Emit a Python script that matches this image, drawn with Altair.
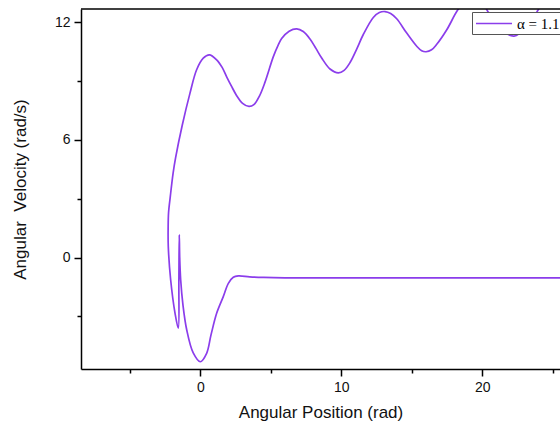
import altair as alt
import pandas as pd

# Trajectory, in drawing order
theta = [27.0, 20.0, 12.0, 6.0, 4.5, 3.5, 2.7, 2.34, 1.99, 1.63, 1.16, 0.76, 0.45, 0.0,
         -0.50, -0.96, -1.23, -1.39, -1.46, -1.49, -1.52, -1.56,
         -1.79, -2.10, -2.27, -2.28, -2.25, -2.13, -1.93, -1.75, -1.28, -0.73, -0.26,
         0.21, 0.64, 1.16, 1.55, 1.87, 2.2, 2.58, 3.0, 3.45, 3.8, 4.2, 4.59, 5.18, 5.5,
         5.77, 6.3, 6.84, 7.3, 7.78, 8.2, 8.61, 9.2, 9.79, 10.2, 10.62, 11.1, 11.56,
         12.27, 12.7, 13.1, 13.5, 13.93, 14.64, 15.35, 15.7, 16.01, 16.4, 16.77, 17.48,
         18.23, 18.8, 19.4, 20.0, 20.43, 21.2, 22.25, 23.2, 23.86, 24.6, 25.5, 26.5]
omega = [-1.03, -1.03, -1.03, -1.03, -1.01, -0.98, -0.93, -1.0, -1.31, -1.99, -2.84, -3.94, -4.88, -5.31,
         -4.86, -3.69, -2.41, -1.14, 0.0, 1.16, -1.2, -3.60,
         -2.84, -1.14, 0.56, 1.5, 2.3, 3.1, 4.3, 5.1, 6.75, 8.39, 9.58,
         10.17, 10.34, 10.09, 9.70, 9.22, 8.76, 8.26, 7.87, 7.71, 7.80, 8.25, 8.95, 10.25, 10.8,
         11.17, 11.55, 11.67, 11.53, 11.15, 10.67, 10.18, 9.62, 9.42, 9.55, 9.95, 10.65, 11.38,
         12.25, 12.50, 12.55, 12.45, 12.18, 11.45, 10.78, 10.55, 10.50, 10.60, 10.88, 11.62,
         12.60, 13.1, 13.25, 13.0, 12.51, 11.7, 11.30, 11.8, 12.52, 13.3, 13.7, 13.5]
series_label = ["α = 1.1"]

x_ticks = [-5, 0, 5, 10, 15, 20, 25]
y_ticks = [-3, 0, 3, 6, 9, 12]

df = pd.DataFrame({"theta": theta, "omega": omega, "i": list(range(len(theta)))})
legend_df = pd.DataFrame({"label": series_label})

W, H = 479, 360
LINE_COLOR = "#8B3DEB"
SANS = "Liberation Sans"

x_axis = alt.Axis(
    values=x_ticks,
    labelExpr="datum.value % 10 === 0 ? datum.label : ''",
    tickSize={"condition": {"test": "datum.value % 10 === 0", "value": 7}, "value": 4},
    title="Angular Position (rad)",
    titleFontSize=17, titleFont=SANS, titleFontWeight="normal", titleColor="#111",
    titlePadding=10,
    labelFontSize=14, labelFont=SANS, labelColor="#111", labelPadding=4,
    labelOverlap=False, labelFlush=False,
    domainColor="black", domainWidth=1.5, tickColor="black", tickWidth=1.5,
    grid=False,
)
y_axis = alt.Axis(
    values=y_ticks,
    labelExpr="datum.value % 6 === 0 ? datum.label : ''",
    tickSize={"condition": {"test": "datum.value % 6 === 0", "value": 7}, "value": 4},
    title="Angular\u00a0 Velocity (rad/s)",
    titleFontSize=17, titleFont=SANS, titleFontWeight="normal", titleColor="#111",
    titlePadding=25,
    labelFontSize=14, labelFont=SANS, labelColor="#111", labelPadding=4,
    labelOverlap=False, labelFlush=False,
    domainColor="black", domainWidth=1.5, tickColor="black", tickWidth=1.5,
    grid=False,
)

line = alt.Chart(df).mark_line(
    color=LINE_COLOR, strokeWidth=1.7, interpolate="catmull-rom", clip=True
).encode(
    x=alt.X("theta:Q", scale=alt.Scale(domain=[-8.46, 25.51], nice=False, zero=False), axis=x_axis),
    y=alt.Y("omega:Q", scale=alt.Scale(domain=[-5.68, 12.68], nice=False, zero=False), axis=y_axis),
    order=alt.Order("i:Q"),
)

top_border = alt.Chart(legend_df).mark_rule(color="black", strokeWidth=1.5).encode(
    x=alt.value(0), x2=alt.value(W), y=alt.value(0)
)

legend_box = alt.Chart(legend_df).mark_rect(fill="white", stroke="#555", strokeWidth=1).encode(
    x=alt.value(391.5), x2=alt.value(520), y=alt.value(3.5), y2=alt.value(25.5)
)
legend_line = alt.Chart(legend_df).mark_rule(color=LINE_COLOR, strokeWidth=1.6).encode(
    x=alt.value(395), x2=alt.value(431), y=alt.value(14.5)
)
legend_text = alt.Chart(legend_df).mark_text(
    font="Liberation Serif", fontSize=15, align="left", baseline="alphabetic", color="black"
).encode(x=alt.value(436), y=alt.value(19.5), text="label:N")

chart = alt.layer(line, top_border, legend_box, legend_line, legend_text).properties(
    width=W, height=H,
    autosize=alt.AutoSizeParams(type="none"),
    padding={"left": 81, "top": 9, "right": 0, "bottom": 58},
).configure_view(stroke=None)

chart.save("out.html", embed_options={"renderer": "svg", "actions": False})
